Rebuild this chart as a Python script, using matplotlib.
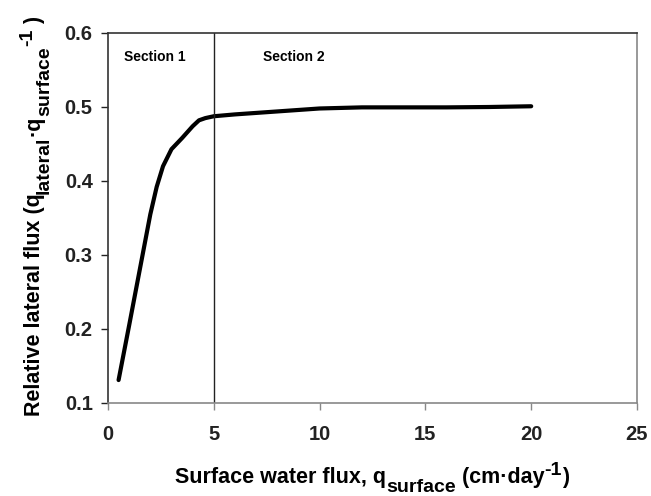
import matplotlib
matplotlib.use('Agg')
import matplotlib.pyplot as plt

# relative lateral flux vs surface flux
q_surface = [0.5, 1.0, 1.5, 2.0, 2.3, 2.6, 3.0, 3.5, 4.0, 4.3, 4.6, 5.0, 6.0, 7.0,
             8.0, 9.0, 10.0, 12.0, 14.0, 16.0, 18.0, 20.0]
q_ratio = [0.131, 0.205, 0.280, 0.355, 0.392, 0.420, 0.443, 0.458, 0.474, 0.482,
           0.485, 0.4875, 0.490, 0.492, 0.494, 0.496, 0.498, 0.4995, 0.4995,
           0.4995, 0.500, 0.501]

x_ticks = [0, 5, 10, 15, 20, 25]
y_ticks = [0.1, 0.2, 0.3, 0.4, 0.5, 0.6]
section_break = 5
section_labels = ['Section 1', 'Section 2']

# label pieces: (text, size, rise in px)
MAIN, SMALL = 15.5, 14
xlabel_parts = [('Surface water flux, q', MAIN, 0), ('surface', SMALL, -9),
                (' (cm\u00b7day', MAIN, 0), ('-1', SMALL, 8), (')', MAIN, 0)]
ylabel_parts = [('Relative lateral flux (q', MAIN, 0), ('lateral', SMALL, -9),
                ('\u00b7q', MAIN, 0), ('surface', SMALL, -9), ('-1', SMALL, 8),
                (' )', MAIN, 0)]

plt.rcParams['font.family'] = ['Liberation Sans', 'DejaVu Sans']
plt.rcParams['font.weight'] = 'bold'

W, H = 651, 496
fig = plt.figure(figsize=(W / 100, H / 100), dpi=100)
ax = fig.add_axes([108 / W, 1 - 403 / H, (637 - 108) / W, (403 - 33) / H])

ax.plot(q_surface, q_ratio, color='black', lw=3, solid_capstyle='round')
ax.axvline(section_break, color='#222222', lw=1)

ax.set_xlim(0, 25)
ax.set_ylim(0.1, 0.6)
ax.set_xticks(x_ticks)
ax.set_yticks(y_ticks)
ax.set_xticklabels([str(t) for t in x_ticks])
ax.set_yticklabels([f'{t:.1f}' for t in y_ticks])
ax.tick_params(axis='both', labelsize=14.5, direction='out', length=5, width=1,
               colors='#222222', pad=6)
ax.tick_params(axis='x', color='#888888', pad=11)

ax.spines['left'].set_color('#333333')
ax.spines['top'].set_color('#333333')
ax.spines['right'].set_color('#888888')
ax.spines['bottom'].set_color('#888888')
for s in ax.spines.values():
    s.set_linewidth(1.2)

ax.text(2.22, 0.568, section_labels[0], fontsize=10, fontweight='bold',
        ha='center', va='center')
ax.text(8.77, 0.568, section_labels[1], fontsize=10, fontweight='bold',
        ha='center', va='center')

renderer = fig.canvas.get_renderer()


def text_width(s, size):
    # pad with 'x' so edge spaces count
    t1 = fig.text(0, 0, 'x' + s + 'x', fontsize=size, fontweight='bold')
    t2 = fig.text(0, 0, 'xx', fontsize=size, fontweight='bold')
    w = t1.get_window_extent(renderer).width - t2.get_window_extent(renderer).width
    t1.remove()
    t2.remove()
    return w


def rich_label(parts, center, base, vertical=False):
    widths = [text_width(s, size) for s, size, _ in parts]
    pos = center - sum(widths) / 2
    for (s, size, rise), w in zip(parts, widths):
        if vertical:
            x, y, rot = base - rise, pos, 90
        else:
            x, y, rot = pos, base + rise, 0
        fig.text(x / W, y / H, s, fontsize=size, fontweight='bold', rotation=rot,
                 rotation_mode='anchor', ha='left', va='baseline')
        pos += w


rich_label(xlabel_parts, center=372, base=H - 483)
rich_label(ylabel_parts, center=H - 216, base=40, vertical=True)

fig.savefig('out.png', dpi=100)
